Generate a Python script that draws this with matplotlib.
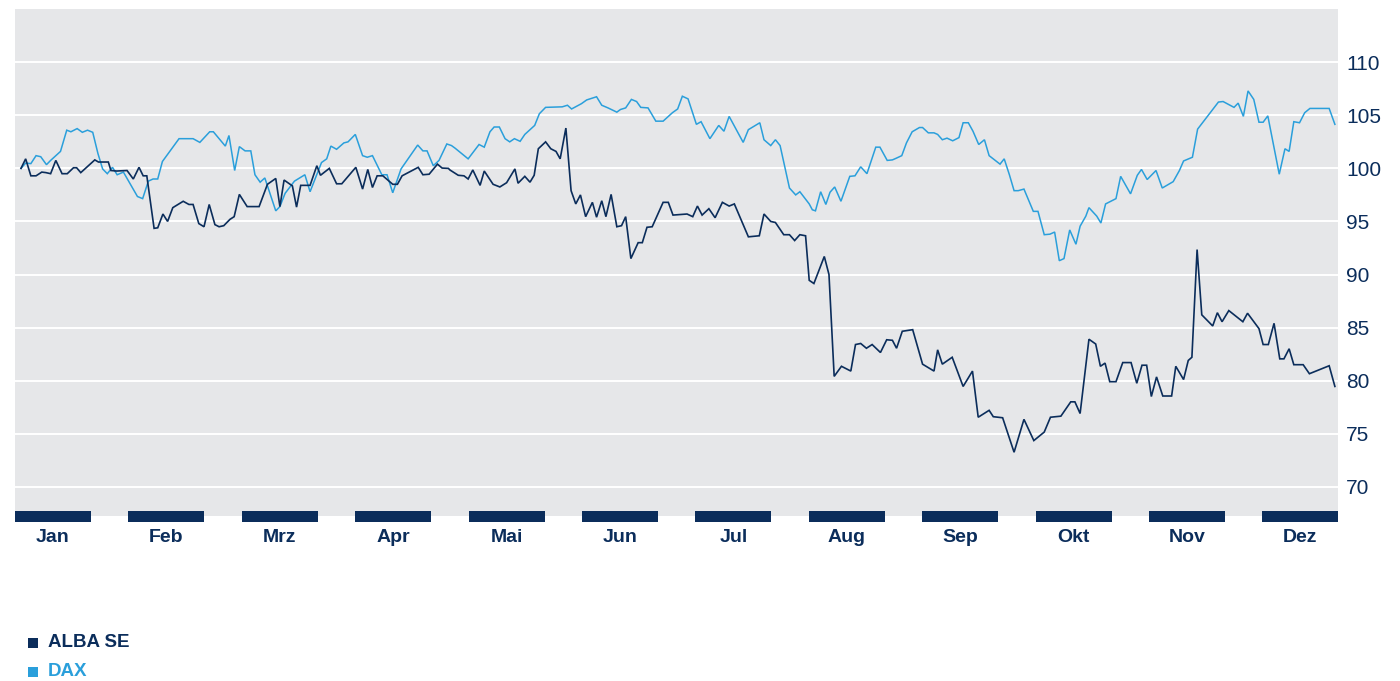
import matplotlib
matplotlib.use("Agg")
import matplotlib.pyplot as plt
from matplotlib.patches import Rectangle

# ---------------- data ----------------
months = ["Jan", "Feb", "Mrz", "Apr", "Mai", "Jun", "Jul", "Aug", "Sep", "Okt", "Nov", "Dez"]
yticks = [70, 75, 80, 85, 90, 95, 100, 105, 110]

alba_day = [0.0, 0.9, 1.9, 2.9, 4.0, 4.8, 5.7, 6.7, 7.9, 8.9, 10.1, 10.7, 11.5, 14.2, 14.9, 16.8,
            17.3, 18.4, 20.4, 21.6, 22.7, 23.5, 24.2, 25.6, 26.3, 27.3, 28.2, 29.2, 31.2, 32.3,
            33.1, 34.2, 35.2, 36.2, 37.3, 38.1, 39.0, 40.2, 41.0, 42.0, 43.5, 45.8, 47.4, 49.0,
            49.8, 50.6, 52.2, 53.0, 53.8, 55.6, 56.9, 57.6, 59.3, 60.7, 61.7, 64.4, 65.7, 66.7,
            67.6, 68.5, 69.6, 71.5, 72.4, 73.3, 76.4, 77.3, 78.5, 80.1, 81.0, 82.2, 82.5, 84.1,
            85.2, 86.0, 86.9, 88.3, 89.1, 90.8, 92.1, 93.4, 95.0, 95.6, 96.9, 97.9, 98.7, 99.5,
            100.9, 101.9, 102.9, 103.7, 104.8, 105.8, 106.7, 107.6, 108.6, 109.9, 110.7, 111.7,
            112.5, 113.5, 114.6, 115.5, 116.3, 117.3, 118.7, 119.5, 120.4, 121.4, 123.5, 124.5,
            125.4, 128.1, 129.2, 130.1, 131.0, 132.3, 133.5, 134.9, 136.2, 137.2, 139.9, 142.0,
            142.9, 144.2, 145.1, 146.7, 147.8, 148.8, 149.8, 150.9, 151.6, 152.5, 154.5, 155.4,
            156.4, 157.8, 159.6, 160.5, 161.5, 162.6, 163.7, 165.3, 166.5, 167.6, 168.4, 169.5,
            171.5, 173.4, 175.6, 176.3, 177.2, 179.1, 181.2, 183.0, 184.1, 186.2, 187.0, 188.8,
            191.0, 192.9, 194.8, 196.8, 198.0, 200.0, 201.9, 202.7, 203.7, 205.4, 206.7, 207.6,
            208.5, 209.4, 210.6, 211.9, 213.5, 214.6, 215.6, 216.5, 217.4, 218.4, 219.6, 221.3,
            222.1, 223.6, 224.5, 225.2, 226.2, 227.1, 229.2, 230.1, 231.0, 232.3, 235.0, 235.9,
            238.1, 238.9, 239.9, 241.0, 242.1, 242.9, 243.9, 244.8, 246.6, 247.8, 251.6, 252.7]
alba_val = [100.0, 100.9, 99.3, 99.3, 99.65, 99.6, 99.5, 100.75, 99.5, 99.5, 100.06, 100.06, 99.6,
            100.8, 100.6, 100.6, 99.8, 99.75, 99.8, 99.0, 100.1, 99.3, 99.3, 94.35, 94.4, 95.7,
            95.0, 96.3, 96.9, 96.6, 96.6, 94.8, 94.5, 96.6, 94.7, 94.5, 94.6, 95.2, 95.45, 97.55,
            96.4, 96.4, 98.5, 99.05, 96.4, 98.9, 98.35, 96.35, 98.4, 98.4, 100.25, 99.35, 100.0,
            98.55, 98.55, 100.1, 98.05, 99.9, 98.2, 99.3, 99.3, 98.5, 98.5, 99.3, 100.1, 99.4,
            99.45, 100.4, 100.03, 100.0, 99.85, 99.35, 99.3, 99.0, 99.85, 98.4, 99.75, 98.5,
            98.25, 98.65, 99.95, 98.6, 99.25, 98.7, 99.35, 101.85, 102.5, 101.85, 101.6, 100.9,
            103.8, 97.9, 96.65, 97.5, 95.45, 96.8, 95.4, 96.95, 95.45, 97.55, 94.5, 94.6, 95.45,
            91.5, 93.0, 93.0, 94.45, 94.5, 96.8, 96.8, 95.6, 95.7, 95.45, 96.45, 95.6, 96.2,
            95.35, 96.8, 96.45, 96.65, 93.55, 93.65, 95.7, 95.0, 94.9, 93.75, 93.75, 93.2, 93.75,
            93.65, 89.45, 89.15, 91.7, 90.0, 80.4, 81.35, 80.9, 83.4, 83.5, 83.05, 83.4, 82.65,
            83.85, 83.8, 83.05, 84.65, 84.8, 81.55, 80.9, 82.9, 81.55, 82.2, 79.45, 80.9, 76.55,
            77.2, 76.6, 76.5, 73.25, 76.35, 74.35, 75.15, 76.55, 76.65, 78.0, 78.0, 76.9, 83.9,
            83.45, 81.35, 81.65, 79.9, 79.9, 81.7, 81.7, 79.75, 81.45, 81.45, 78.5, 80.35, 78.55,
            78.55, 81.35, 80.1, 81.9, 82.2, 92.35, 86.2, 85.15, 86.4, 85.55, 86.6, 85.55, 86.35,
            84.9, 83.4, 83.4, 85.4, 82.05, 82.05, 83.0, 81.5, 81.5, 80.65, 81.4, 79.45]

dax_day = [0.0, 0.9, 1.9, 2.9, 3.8, 4.9, 5.7, 6.7, 7.6, 8.8, 9.6, 10.8, 11.8, 12.8, 13.8, 14.8,
           15.7, 16.6, 17.6, 18.5, 19.7, 22.4, 23.4, 24.5, 25.4, 26.3, 27.2, 30.4, 33.1, 34.4,
           36.3, 37.0, 39.3, 40.0, 41.1, 42.0, 43.1, 44.2, 45.0, 46.0, 46.9, 49.0, 49.8, 50.8,
           52.6, 54.6, 55.6, 57.8, 58.8, 59.6, 60.7, 62.1, 62.9, 64.3, 65.7, 66.6, 67.6, 69.4,
           70.4, 71.5, 73.1, 76.3, 77.3, 78.1, 79.3, 80.4, 81.9, 82.8, 83.5, 86.0, 88.1, 89.1,
           90.2, 91.0, 92.0, 93.1, 94.0, 94.9, 96.0, 96.9, 98.8, 99.7, 100.9, 104.1, 105.1,
           105.9, 107.8, 108.8, 110.7, 111.7, 112.9, 114.6, 115.3, 116.3, 117.4, 118.4, 119.2,
           120.6, 122.1, 123.5, 125.3, 126.3, 127.2, 128.3, 129.9, 130.8, 132.5, 134.2, 135.2,
           136.2, 138.9, 139.9, 142.1, 142.9, 144.2, 145.1, 146.0, 147.8, 149.0, 149.8, 151.6,
           152.2, 152.8, 153.8, 154.8, 155.6, 156.5, 157.7, 159.4, 160.4, 161.5, 162.7, 164.4,
           165.2, 166.6, 167.6, 168.3, 169.4, 170.3, 171.4, 172.8, 173.4, 174.5, 175.6, 176.3,
           177.2, 178.1, 179.2, 180.4, 181.2, 182.2, 183.1, 184.2, 185.3, 186.2, 188.3, 189.1,
           190.1, 191.0, 191.8, 192.9, 194.7, 195.6, 196.8, 197.9, 198.8, 199.7, 200.6, 201.7,
           202.9, 203.7, 204.8, 205.4, 206.9, 207.7, 208.6, 210.6, 211.5, 213.4, 214.7, 215.5,
           216.6, 218.3, 219.5, 221.6, 222.8, 223.6, 225.3, 226.3, 230.3, 231.2, 233.3, 234.1,
           235.1, 236.0, 237.1, 238.1, 238.9, 239.8, 242.0, 243.1, 243.9, 244.8, 245.9, 246.9,
           247.9, 251.6, 252.7]
dax_val = [100.0, 100.5, 100.45, 101.2, 101.1, 100.35, 100.75, 101.2, 101.6, 103.6, 103.45, 103.75,
           103.4, 103.6, 103.4, 101.4, 99.95, 99.5, 100.1, 99.4, 99.65, 97.35, 97.15, 98.8, 99.0,
           99.0, 100.65, 102.8, 102.8, 102.45, 103.45, 103.45, 102.1, 103.1, 99.8, 102.05, 101.65,
           101.65, 99.4, 98.7, 99.1, 96.0, 96.4, 97.65, 98.8, 99.4, 97.8, 100.55, 100.9, 102.1,
           101.8, 102.4, 102.5, 103.2, 101.2, 101.05, 101.2, 99.4, 99.4, 97.7, 99.95, 102.2,
           101.65, 101.65, 100.25, 100.75, 102.3, 102.15, 101.9, 100.9, 102.25, 102.0, 103.45,
           103.9, 103.9, 102.8, 102.5, 102.8, 102.55, 103.2, 104.05, 105.15, 105.75, 105.8,
           105.95, 105.6, 106.1, 106.45, 106.75, 105.95, 105.7, 105.3, 105.55, 105.7, 106.5,
           106.3, 105.75, 105.7, 104.45, 104.45, 105.25, 105.6, 106.8, 106.55, 104.15, 104.4,
           102.8, 104.05, 103.5, 104.9, 102.45, 103.65, 104.3, 102.7, 102.15, 102.7, 102.15,
           98.15, 97.5, 97.8, 96.65, 96.1, 96.0, 97.8, 96.6, 97.75, 98.25, 96.9, 99.25, 99.3,
           100.15, 99.5, 102.0, 102.0, 100.75, 100.8, 100.95, 101.2, 102.4, 103.45, 103.85,
           103.85, 103.35, 103.35, 103.2, 102.7, 102.85, 102.6, 102.9, 104.3, 104.3, 103.5,
           102.25, 102.7, 101.2, 100.4, 100.9, 99.4, 97.9, 97.9, 98.05, 95.95, 95.95, 93.75,
           93.8, 94.0, 91.3, 91.5, 94.2, 92.85, 94.55, 95.5, 96.3, 95.5, 94.85, 96.65, 97.15,
           99.25, 97.6, 99.35, 99.9, 98.95, 99.8, 98.15, 98.75, 99.8, 100.7, 101.05, 103.7,
           106.25, 106.3, 105.75, 106.15, 104.9, 107.3, 106.5, 104.35, 104.35, 104.95, 99.45,
           101.85, 101.6, 104.4, 104.3, 105.25, 105.65, 105.65, 104.15]

series_names = ["ALBA SE", "DAX"]

# ---------------- style ----------------
NAVY = "#0b2d5b"
LIGHT = "#2a9fdb"
BG = "#e6e7e9"
W, H, DPI = 1400, 681, 100

fig = plt.figure(figsize=(W / DPI, H / DPI), dpi=DPI)
fig.patch.set_facecolor("white")

ax_l, ax_r, ax_t, ax_b = 15, 1338, 9, 515.7
ax = fig.add_axes([ax_l / W, 1 - ax_b / H, (ax_r - ax_l) / W, (ax_b - ax_t) / H])
ax.set_facecolor(BG)
for s in ax.spines.values():
    s.set_visible(False)

ax.set_xlim(-1.15, 253.3)
ax.set_ylim(67.27, 115.02)

for v in yticks:
    ax.axhline(v, color="white", lw=1.4, zorder=1)

ax.plot(dax_day, dax_val, color=LIGHT, lw=1.1, zorder=3, solid_joinstyle="miter")
ax.plot(alba_day, alba_val, color=NAVY, lw=1.2, zorder=4, solid_joinstyle="miter")

ax.set_xticks([])
ax.set_yticks(yticks)
ax.yaxis.tick_right()
ax.tick_params(axis="y", length=0, pad=6, labelsize=15, labelcolor=NAVY)
for lab in ax.get_yticklabels():
    lab.set_fontfamily("Liberation Sans")

# month bars and labels
slot = 113.4
bar_w = 76
for i, m in enumerate(months):
    x0 = ax_l + i * slot
    fig.add_artist(Rectangle((x0 / W, 1 - 521.7 / H), bar_w / W, 10.7 / H,
                             transform=fig.transFigure, facecolor=NAVY, edgecolor="none",
                             zorder=5, clip_on=False))
    fig.text((x0 + bar_w / 2) / W, 1 - 537.5 / H, m, ha="center", va="center",
             fontsize=14, fontweight="bold", color=NAVY, family="Liberation Sans")

# legend
leg_colors = [NAVY, LIGHT]
leg_y = [642.7, 671.5]
for name, col, yy in zip(series_names, leg_colors, leg_y):
    fig.add_artist(Rectangle((28 / W, 1 - (yy + 5) / H), 10 / W, 10 / H,
                             transform=fig.transFigure, facecolor=col, edgecolor="none"))
    fig.text(48 / W, 1 - yy / H, name, ha="left", va="center", fontsize=13.5,
             fontweight="bold", color=col, family="Liberation Sans")

fig.savefig("out.png", dpi=DPI, facecolor="white")
